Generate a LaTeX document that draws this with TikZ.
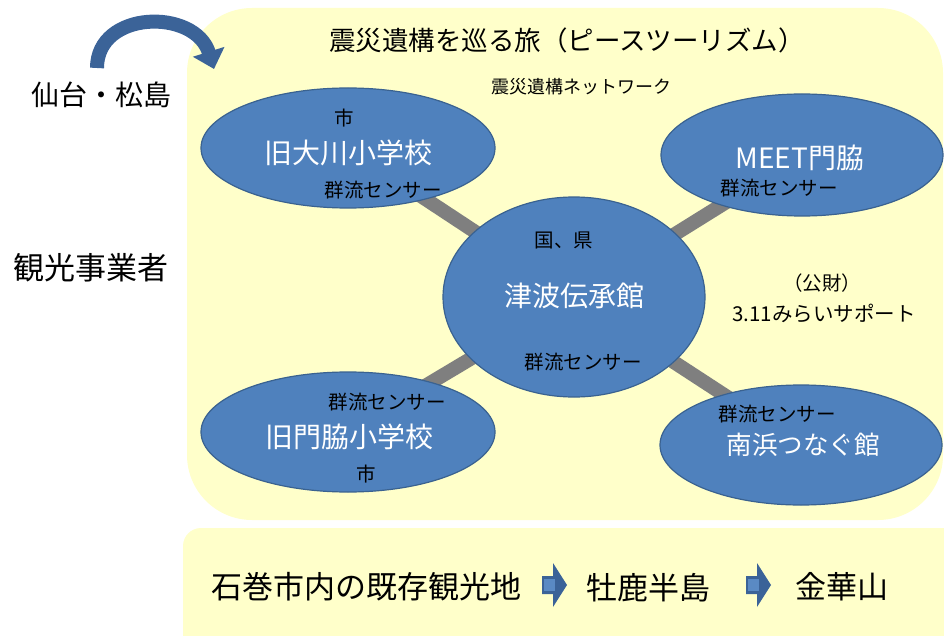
\documentclass[tikz,border=0pt]{standalone}
\usepackage{fontspec}
\setmainfont{Noto Sans CJK JP}
\usetikzlibrary{arrows.meta,shapes.geometric,calc,backgrounds}
\definecolor{bgyellow}{HTML}{FFFFCA}
\definecolor{ellfill}{HTML}{4F81BD}
\definecolor{elldraw}{HTML}{3A6290}
\definecolor{conngray}{HTML}{7F7F7F}
\definecolor{arrowblue}{HTML}{3B6398}
\definecolor{arrowlight}{HTML}{5A8AC4}
\tikzset{
  ell/.style={ellipse,fill=ellfill,draw=elldraw,line width=1.2pt,inner sep=0pt},
  conn/.style={draw=conngray,line width=14pt},
  small/.style={font=\fontsize{19.5}{22}\selectfont,text=black,inner sep=0pt},
  big/.style={font=\fontsize{28}{30}\selectfont,text=white,inner sep=0pt},
  side/.style={font=\fontsize{28}{32}\selectfont,text=black,inner sep=0pt},
  bottomtxt/.style={font=\fontsize{31}{34}\selectfont,text=black,inner sep=0pt},
}
\newcommand{\blockarrow}[1]{%
  \fill[arrowblue] ($(#1)+(0,-9)$) -- ++(11,0) -- ++(0,-13) -- ++(14,22) -- ++(-14,22) -- ++(0,-13) -- ++(-11,0) -- cycle;
  \fill[arrowlight] ($(#1)+(2,-6)$) rectangle ++(11,12);
}
\begin{document}
\begin{tikzpicture}[x=1pt,y=-1pt]
\useasboundingbox (0,0) rectangle (944,636);
\begin{scope}[on background layer]
\fill[bgyellow,rounded corners=65pt] (187,8) rectangle (943,520);
\fill[bgyellow,rounded corners=18pt] (183,528) rectangle (960,660);
\end{scope}
% ellipses
\node[ell,minimum width=294pt,minimum height=120pt] (tl) at (348,148) {};
\node[ell,minimum width=282pt,minimum height=122pt] (tr) at (802,155) {};
\node[ell,minimum width=262pt,minimum height=200pt] (c) at (574,297) {};
\node[ell,minimum width=294pt,minimum height=120pt] (bl) at (348,432) {};
\node[ell,minimum width=282pt,minimum height=120pt] (br) at (801,445) {};
\begin{scope}[on background layer]
\path[conn] (tl.center) -- (c.center);
\path[conn] (tr.center) -- (c.center);
\path[conn] (bl.center) -- (c.center);
\path[conn] (br.center) -- (c.center);
\end{scope}
% titles
\node[inner sep=0pt,font=\fontsize{26.5}{30}\selectfont] (title) at (567,40) {震災遺構を巡る旅（ピースツーリズム）};
\node[inner sep=0pt,font=\fontsize{18}{20}\selectfont] (net) at (581,87) {震災遺構ネットワーク};
% left labels
\node[side] (sendai) at (101,95) {仙台・松島};
\node[side,font=\fontsize{31}{34}\selectfont] (kanko) at (91,268) {観光事業者};
% top-left ellipse
\node[small] (tl1) at (344,118) {市};
\node[big] (tl2) at (348,153) {旧大川小学校};
\node[small] (tl3) at (383,190) {群流センサー};
% top-right
\node[big] (tr2) at (800,158) {MEET門脇};
\node[small] (tr3) at (779,188) {群流センサー};
% center
\node[small] (c1) at (564,240) {国、県};
\node[big] (c2) at (574,296) {津波伝承館};
\node[small] (c3) at (583,362) {群流センサー};
% support
\node[small] (s1) at (822,283) {（公財）};
\node[small,font=\fontsize{20.5}{22}\selectfont] (s2) at (824,313) {3.11みらいサポート};
% bottom-left
\node[small] (bl1) at (387,402) {群流センサー};
\node[big] (bl2) at (349,437) {旧門脇小学校};
\node[small] (bl3) at (366,474) {市};
% bottom-right
\node[small] (br1) at (777,414) {群流センサー};
\node[big,font=\fontsize{25.5}{28}\selectfont] (br2) at (803,445) {南浜つなぐ館};
% bottom box
\node[bottomtxt] (b1) at (366,587) {石巻市内の既存観光地};
\node[bottomtxt] (b2) at (648,588) {牡鹿半島};
\node[bottomtxt] (b3) at (842,587) {金華山};
\coordinate (a1) at (542,585);
\coordinate (a2) at (746,585);
\blockarrow{a1}
\blockarrow{a2}
% curved arrow
\coordinate (cs) at (97,68);
\coordinate (ce) at (214,69);
\draw[arrowblue,line width=14pt,-{Triangle[width=32pt,length=18pt]}] (cs) .. controls (97,10) and (195,8) .. (ce);
\end{tikzpicture}
\end{document}
